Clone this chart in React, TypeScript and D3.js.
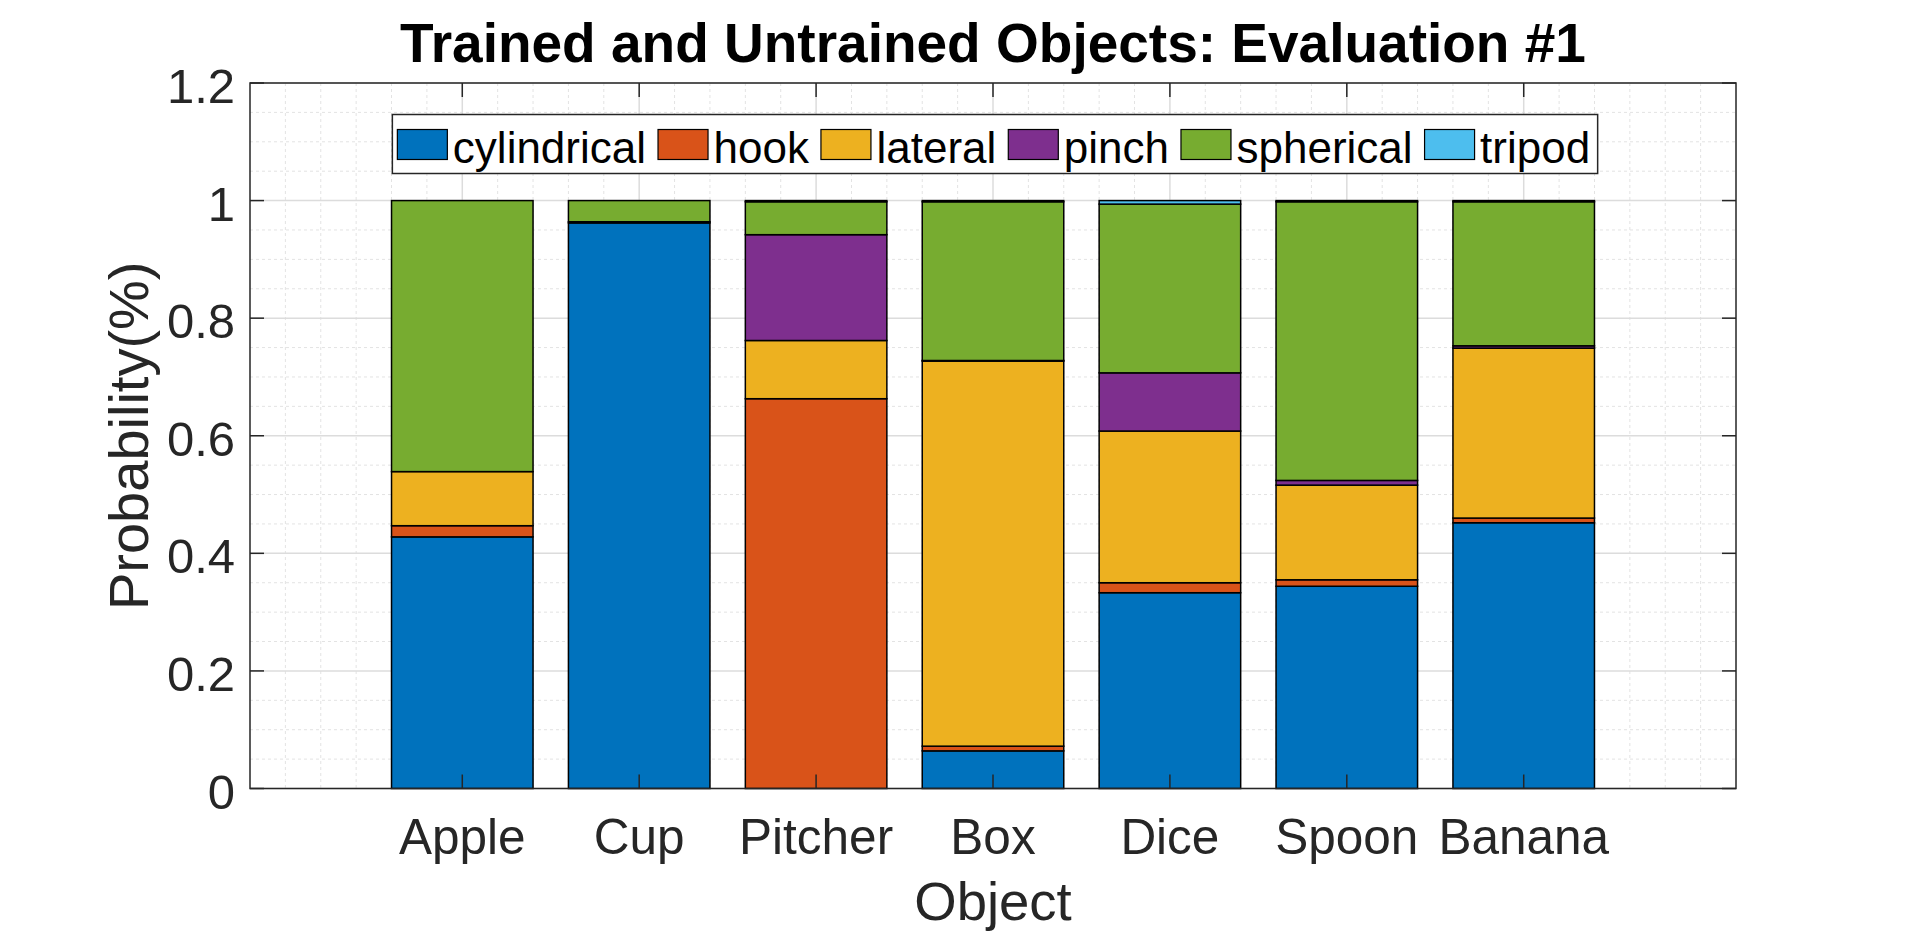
import React, { useRef, useEffect } from "react";
import * as d3 from "d3";

const objects = ["Apple", "Cup", "Pitcher", "Box", "Dice", "Spoon", "Banana"];
const grasps = ["cylindrical", "hook", "lateral", "pinch", "spherical", "tripod"];
const colors = ["#0072BD", "#D95319", "#EDB120", "#7E2F8E", "#77AC30", "#4DBEEE"];

// one array per grasp type, values in object order
const cylindrical = [0.428, 0.962, 0.0, 0.064, 0.333, 0.344, 0.452];
const hook = [0.019, 0.002, 0.663, 0.008, 0.017, 0.011, 0.008];
const lateral = [0.092, 0.0, 0.099, 0.655, 0.258, 0.161, 0.289];
const pinch = [0.0, 0.0, 0.18, 0.001, 0.099, 0.008, 0.004];
const spherical = [0.461, 0.036, 0.056, 0.27, 0.287, 0.474, 0.245];
const tripod = [0.0, 0.0, 0.002, 0.002, 0.006, 0.002, 0.002];

const yTicks = [0, 0.2, 0.4, 0.6, 0.8, 1, 1.2];

const W = 1920;
const H = 936;
const FONT = "'Liberation Sans', Arial, Helvetica, sans-serif";
const INK = "#262626";

const App: React.FC = () => {
  const svgRef = useRef<SVGSVGElement | null>(null);

  useEffect(() => {
    const svg = d3.select(svgRef.current);
    svg.selectAll("*").remove();

    const left = 250, right = 1736, top = 83, bottom = 788.5;

    const x = d3.scaleLinear().domain([-0.2, 8.2]).range([left, right]);
    const y = d3.scaleLinear().domain([0, 1.2]).range([bottom, top]);

    const table = objects.map((name, i) => ({
      name,
      cylindrical: cylindrical[i],
      hook: hook[i],
      lateral: lateral[i],
      pinch: pinch[i],
      spherical: spherical[i],
      tripod: tripod[i],
    }));
    const stacked = d3.stack<any>().keys(grasps)(table);

    const g = svg.append("g");

    // minor grid
    const minorX = d3.range(0, 41).map((k) => k * 0.2).filter((v) => Math.abs(v - Math.round(v)) > 1e-6 || v === 0 || v === 8);
    const minorY = d3.range(0, 25).map((k) => k * 0.05).filter((v) => Math.abs(v * 5 - Math.round(v * 5)) > 1e-6);
    g.selectAll(".mx").data(minorX).enter().append("line")
      .attr("x1", (d) => x(d)).attr("x2", (d) => x(d)).attr("y1", top).attr("y2", bottom)
      .attr("stroke", "#e3e3e3").attr("stroke-width", 1).attr("stroke-dasharray", "3,3");
    g.selectAll(".my").data(minorY).enter().append("line")
      .attr("x1", left).attr("x2", right).attr("y1", (d) => y(d)).attr("y2", (d) => y(d))
      .attr("stroke", "#e3e3e3").attr("stroke-width", 1).attr("stroke-dasharray", "3,3");

    // major grid
    g.selectAll(".gx").data(d3.range(1, 8)).enter().append("line")
      .attr("x1", (d) => x(d)).attr("x2", (d) => x(d)).attr("y1", top).attr("y2", bottom)
      .attr("stroke", "#dcdcdc").attr("stroke-width", 1.5);
    g.selectAll(".gy").data(yTicks).enter().append("line")
      .attr("x1", left).attr("x2", right).attr("y1", (d) => y(d)).attr("y2", (d) => y(d))
      .attr("stroke", "#dcdcdc").attr("stroke-width", 1.5);

    // bars
    stacked.forEach((layer, li) => {
      g.append("g").selectAll("rect").data(layer).enter().append("rect")
        .attr("x", (_, i) => x(i + 1 - 0.4))
        .attr("width", x(0.8) - x(0))
        .attr("y", (d) => y(d[1]))
        .attr("height", (d) => Math.max(0, y(d[0]) - y(d[1])))
        .attr("fill", colors[li])
        .attr("stroke", "#000")
        .attr("stroke-width", 1.5)
        .attr("display", (d) => (d[1] - d[0] > 0 ? null : "none"));
    });

    // axes box
    g.append("rect").attr("x", left).attr("y", top).attr("width", right - left).attr("height", bottom - top)
      .attr("fill", "none").attr("stroke", INK).attr("stroke-width", 1.5);

    const tl = 14;
    // x ticks (bottom & top)
    d3.range(1, 8).forEach((v) => {
      g.append("line").attr("x1", x(v)).attr("x2", x(v)).attr("y1", bottom).attr("y2", bottom - tl).attr("stroke", INK).attr("stroke-width", 1.5);
      g.append("line").attr("x1", x(v)).attr("x2", x(v)).attr("y1", top).attr("y2", top + tl).attr("stroke", INK).attr("stroke-width", 1.5);
    });
    // y ticks (left & right)
    yTicks.forEach((v) => {
      g.append("line").attr("x1", left).attr("x2", left + tl).attr("y1", y(v)).attr("y2", y(v)).attr("stroke", INK).attr("stroke-width", 1.5);
      g.append("line").attr("x1", right).attr("x2", right - tl).attr("y1", y(v)).attr("y2", y(v)).attr("stroke", INK).attr("stroke-width", 1.5);
    });

    // tick labels
    g.selectAll(".xl").data(objects).enter().append("text")
      .attr("x", (_, i) => x(i + 1)).attr("y", 854)
      .attr("text-anchor", "middle").attr("font-family", FONT).attr("font-size", 49.5).attr("fill", INK)
      .text((d) => d);
    g.selectAll(".yl").data(yTicks).enter().append("text")
      .attr("x", 235).attr("y", (d) => y(d) + 20)
      .attr("text-anchor", "end").attr("font-family", FONT).attr("font-size", 49).attr("fill", INK)
      .text((d) => d3.format("~g")(d));

    // axis labels
    g.append("text").attr("x", (left + right) / 2).attr("y", 920)
      .attr("text-anchor", "middle").attr("font-family", FONT).attr("font-size", 54.5).attr("fill", INK)
      .text("Object");
    g.append("text").attr("transform", `translate(148,${(top + bottom) / 2}) rotate(-90)`)
      .attr("text-anchor", "middle").attr("font-family", FONT).attr("font-size", 56).attr("fill", INK)
      .text("Probability(%)");

    // title
    g.append("text").attr("x", (left + right) / 2).attr("y", 62)
      .attr("text-anchor", "middle").attr("font-family", FONT).attr("font-size", 55)
      .attr("font-weight", "bold").attr("fill", "#000")
      .text("Trained and Untrained Objects: Evaluation #1");

    // legend
    const lg = g.append("g");
    const box = lg.append("rect").attr("fill", "#fff").attr("stroke", INK).attr("stroke-width", 1.5);
    const sw = 50, sh = 30, pad = 5, gapText = 5.5, gapItem = 12;
    let cx = 0;
    grasps.forEach((name, i) => {
      lg.append("rect").attr("x", cx + pad).attr("y", 129.5).attr("width", sw).attr("height", sh)
        .attr("fill", colors[i]).attr("stroke", "#000").attr("stroke-width", 1.2);
      const t = lg.append("text").attr("x", cx + pad + sw + gapText).attr("y", 162.5)
        .attr("font-family", FONT).attr("font-size", 44).attr("fill", "#000").text(name);
      const tw = (t.node() as SVGTextElement).getComputedTextLength();
      cx += sw + gapText + tw + (i < grasps.length - 1 ? gapItem : 0);
    });
    const lw = cx + pad + 7.5;
    const lx = 995 - lw / 2;
    lg.attr("transform", `translate(${lx},0)`);
    box.attr("x", 0).attr("y", 114.5).attr("width", lw).attr("height", 59);
  }, []);

  return (
    <svg ref={svgRef} width={W} height={H} style={{ position: "absolute", left: 0, top: 0, background: "#fff" }} />
  );
};

export default App;
